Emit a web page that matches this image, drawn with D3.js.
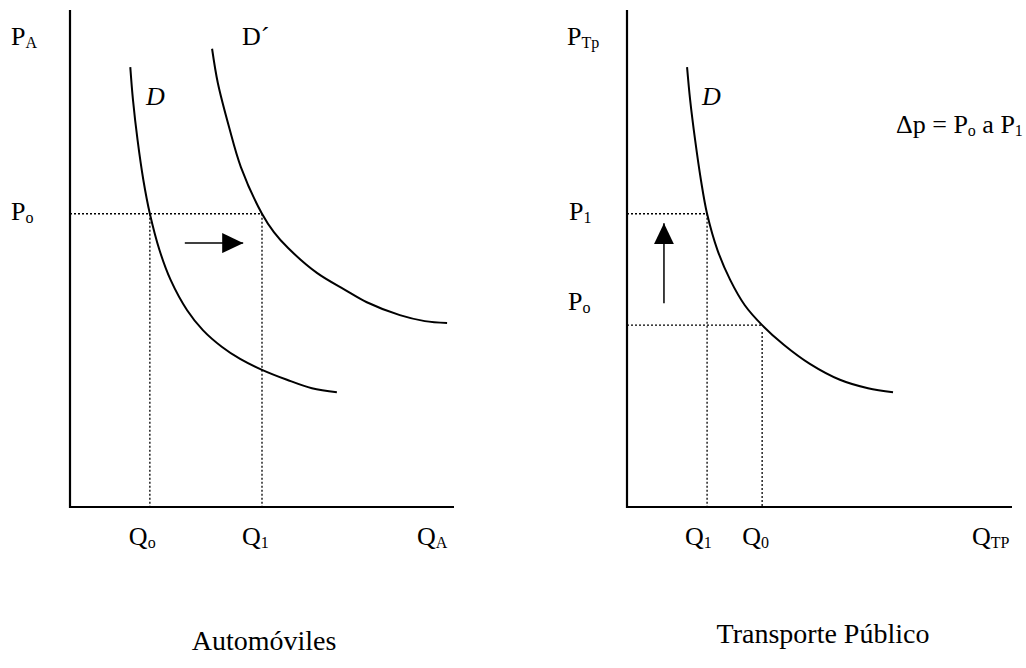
<!DOCTYPE html>
<html>
<head>
<meta charset="utf-8">
<script src="https://cdn.jsdelivr.net/npm/d3@7"></script>
<style>
  body { margin: 0; background: white; }
  text { font-family: "Times New Roman", "Liberation Serif", serif; fill: black; }
</style>
</head>
<body>
<div id="container"></div>
<script>
/* DATA (quantity / price in arbitrary units, 0-100) */

// left panel: automoviles
const autoD_q = [15.7, 16.4, 17.6, 19.1, 20.8, 23.3, 26.2, 30.5, 34.6, 39.6, 44.3, 50.0, 56.5, 63.0, 69.5]
const autoD_p = [88.5, 81.9, 73.8, 65.8, 59.0, 51.7, 45.7, 39.6, 35.6, 32.2, 29.8, 27.6, 25.6, 23.9, 23.1]
const autoD2_q = [37.0, 38.5, 41.4, 44.5, 50.0, 53.1, 56.8, 64.3, 71.6, 77.3, 85.9, 92.4, 98.2]
const autoD2_p = [92.2, 85.3, 76.5, 68.4, 59.0, 55.3, 52.1, 47.1, 43.7, 41.2, 38.6, 37.4, 37.0]
const autoQ = [20.8, 50.0]   // Qo, Q1
const autoP = [59.0]         // Po
const autoArrow = [[29.9, 53.1], [45.1, 53.1]]

// right panel: transporte publico
const tpD_q = [15.6, 16.4, 17.7, 19.2, 20.8, 23.5, 26.8, 30.6, 35.1, 40.8, 47.5, 55.3, 62.6, 69.1]
const tpD_p = [88.5, 81.9, 73.8, 65.8, 59.0, 51.7, 45.7, 40.6, 36.6, 32.6, 28.8, 25.6, 23.9, 23.1]
const tpQ = [20.8, 35.1]     // Q1, Q0
const tpP = [59.0, 36.6]     // P1, Po
const tpArrow = [[9.6, 41.0], [9.6, 57.1]]

/* CONSTANTS AND GLOBALS */

const width = 1026
const height = 668
const plotTop = 10, plotBottom = 507

const svg = d3.select("#container")
  .append("svg")
  .attr("width", width)
  .attr("height", height)
  .style("background-color", "white")

svg.append("defs").append("marker")
  .attr("id", "head")
  .attr("viewBox", "0 0 21 20")
  .attr("markerUnits", "userSpaceOnUse")
  .attr("markerWidth", 21)
  .attr("markerHeight", 20)
  .attr("refX", 21)
  .attr("refY", 10)
  .attr("orient", "auto")
  .append("path")
  .attr("d", "M0,0 L21,10 L0,20 Z")
  .attr("fill", "black")

const yScale = d3.scaleLinear().domain([0, 100]).range([plotBottom, plotTop])
const xLeft = d3.scaleLinear().domain([0, 100]).range([70, 454])
const xRight = d3.scaleLinear().domain([0, 100]).range([627, 1012])

function panel(x, opts) {
  const g = svg.append("g")
  const line = d3.line().x(d => x(d[0])).y(d => yScale(d[1]))

  // axes
  g.append("path")
    .attr("d", line([[0, 100], [0, 0], [100, 0]]))
    .attr("fill", "none")
    .attr("stroke", "black")
    .attr("stroke-width", 2.2)

  // dotted guides
  opts.guides.forEach(gd => {
    g.append("path")
      .attr("d", line(gd))
      .attr("fill", "none")
      .attr("stroke", "black")
      .attr("stroke-width", 1.3)
      .attr("stroke-dasharray", "2,2")
  })

  // demand curves
  const curve = d3.line().x(d => x(d[0])).y(d => yScale(d[1])).curve(d3.curveCatmullRom.alpha(0.5))
  opts.curves.forEach(c => {
    g.append("path")
      .attr("d", curve(d3.zip(c[0], c[1])))
      .attr("fill", "none")
      .attr("stroke", "black")
      .attr("stroke-width", 2)
  })

  // arrow
  g.append("path")
    .attr("d", line(opts.arrow))
    .attr("stroke", "black")
    .attr("stroke-width", 1.5)
    .attr("marker-end", "url(#head)")

  return g
}

function label(g, x, y, main, sub, size, italic) {
  const t = g.append("text")
    .attr("x", x)
    .attr("y", y)
    .style("font-size", (size || 26) + "px")
  if (italic) t.style("font-style", "italic")
  t.append("tspan").text(main)
  if (sub) t.append("tspan").attr("dy", 3).style("font-size", "16px").text(sub)
  return t
}

/* LEFT PANEL */
const left = panel(xLeft, {
  curves: [[autoD_q, autoD_p], [autoD2_q, autoD2_p]],
  guides: [
    [[0, autoP[0]], [autoQ[1], autoP[0]]],
    [[autoQ[0], autoP[0]], [autoQ[0], 0]],
    [[autoQ[1], autoP[0]], [autoQ[1], 0]]
  ],
  arrow: autoArrow
})
label(left, 11, 45, "P", "A")
label(left, 11, yScale(autoP[0]) + 6, "P", "o")
label(left, 146, 105, "D", null, 26, true)
label(left, 242, 45, "D\u00B4")
label(left, xLeft(autoQ[0]) - 21, 545, "Q", "o")
label(left, xLeft(autoQ[1]) - 20, 545, "Q", "1")
label(left, 417, 545, "Q", "A")
left.append("text")
  .attr("x", 264).attr("y", 650)
  .attr("text-anchor", "middle")
  .style("font-size", "28px")
  .text("Automóviles")

/* RIGHT PANEL */
const right = panel(xRight, {
  curves: [[tpD_q, tpD_p]],
  guides: [
    [[0, tpP[0]], [tpQ[0], tpP[0]]],
    [[tpQ[0], tpP[0]], [tpQ[0], 0]],
    [[0, tpP[1]], [tpQ[1], tpP[1]]],
    [[tpQ[1], tpP[1] - 1.4], [tpQ[1], 0]]
  ],
  arrow: tpArrow
})
label(right, 567, 45, "P", "Tp")
label(right, 569, yScale(tpP[0]) + 6, "P", "1")
label(right, 568, 310, "P", "o")
label(right, 702, 105, "D", null, 26, true)
label(right, xRight(tpQ[0]) - 22, 545, "Q", "1")
label(right, xRight(tpQ[1]) - 20, 545, "Q", "0")
label(right, 972, 545, "Q", "TP")
const dp = right.append("text")
  .attr("x", 896).attr("y", 133)
  .style("font-size", "26px")
dp.append("tspan").text("\u0394p = P")
dp.append("tspan").attr("dy", 3).style("font-size", "16px").text("o")
dp.append("tspan").attr("dy", -3).text(" a P")
dp.append("tspan").attr("dy", 3).style("font-size", "16px").text("1")
right.append("text")
  .attr("x", 823).attr("y", 643)
  .attr("text-anchor", "middle")
  .style("font-size", "28px")
  .text("Transporte Público")
</script>
</body>
</html>
